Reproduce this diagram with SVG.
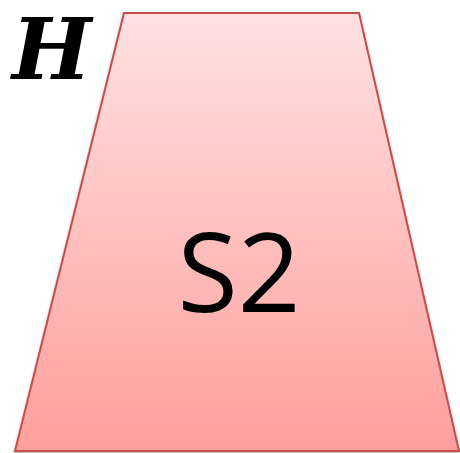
<svg xmlns="http://www.w3.org/2000/svg" width="460" height="453" viewBox="0 0 460 453">
<style>
.lbl{font-family:"Open Sans","Noto Sans",sans-serif;fill:#000}
.h{font-family:"DejaVu Serif","Liberation Serif",serif;font-style:italic;font-weight:bold;fill:#000}
</style>
<defs>
<linearGradient id="g" x1="0" y1="0" x2="0" y2="1">
<stop offset="0" stop-color="#FFE1E1"/>
<stop offset="1" stop-color="#FF9F9C"/>
</linearGradient>
<filter id="sh" x="-5%" y="-5%" width="110%" height="110%">
<feDropShadow dx="0" dy="1.5" stdDeviation="1.5" flood-color="#000" flood-opacity="0.3"/>
</filter>
</defs>
<g id="trapezoid">
<path d="M124,13 L359,13 L459,451 L15,451 Z" fill="url(#g)" stroke="#C0504D" stroke-width="2" filter="url(#sh)"/>
<text class="lbl" x="239" y="312" font-size="110" text-anchor="middle">S2</text>
</g>
<g id="label-H">
<text class="h" x="12" y="79" font-size="84">H</text>
</g>
<g id="connectors"/>
</svg>
